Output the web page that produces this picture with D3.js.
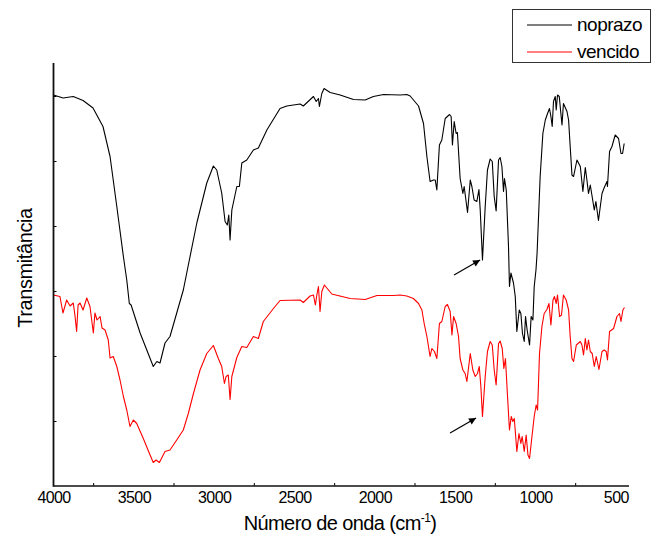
<!DOCTYPE html>
<html><head><meta charset="utf-8">
<script src="https://cdn.jsdelivr.net/npm/d3@7"></script>
<style>
html,body{margin:0;padding:0;background:#fff;}
text{font-family:"Liberation Sans",Arial,sans-serif;fill:#000;}
</style></head>
<body><svg id="c" width="654" height="538"></svg>
<script>
// ---- data ----
const seriesNames = ["noprazo", "vencido"];
const xTickValues = [4000, 3500, 3000, 2500, 2000, 1500, 1000, 500];
const xLabel = "Número de onda (cm";
const yLabel = "Transmitância";

const noprazoWn = [4000,3940,3877,3816,3754,3692,3648,3606,3565,3544,3528,3517,3461,3379,3357,3337,3306,3275,3233,3192,3167,3108,3046,3005,2984,2953,2932,2918,2909,2901,2890,2859,2843,2828,2797,2756,2725,2672,2590,2548,2465,2445,2382,2365,2351,2345,2330,2316,2278,2216,2133,2060,2009,1946,1842,1801,1780,1728,1697,1676,1656,1635,1624,1614,1598,1583,1562,1535,1525,1517,1506,1494,1486,1469,1452,1444,1423,1406,1396,1382,1365,1352,1344,1330,1313,1299,1282,1269,1257,1245,1230,1220,1209,1199,1193,1182,1168,1162,1153,1137,1126,1116,1101,1091,1081,1070,1062,1052,1037,1027,1016,1008,997,990,971,954,939,925,913,904,896,888,877,871,863,852,842,835,826,804,794,784,773,763,742,721,705,690,680,670,659,649,634,624,608,586,572,555,552,539,524,504,483,468,458,448];
const noprazoT = [78.2,77.6,77.9,77.1,75.6,71.9,65.9,55.9,45.9,41.2,36.5,36.2,30.6,23.9,24.9,24.6,28.6,29.9,34.6,39.2,43.2,52.6,60.6,64.0,63.2,58.6,52.9,52.2,54.2,49.2,55.2,59.9,59.9,64.6,65.2,67.2,67.6,71.2,75.5,76.0,76.4,76.0,77.9,76.9,77.5,75.9,78.5,79.5,78.7,78.2,77.3,77.2,77.9,78.3,78.2,78.3,78.0,76.0,72.5,65.9,60.9,61.2,61.2,59.2,68.2,69.2,73.5,74.3,73.9,68.2,72.9,70.5,70.7,61.5,58.5,59.9,54.7,61.2,59.9,57.2,56.9,59.3,55.2,45.2,55.9,63.2,65.4,64.9,57.9,55.0,65.2,65.7,63.9,58.9,61.5,59.2,47.9,39.9,42.6,40.6,37.9,30.9,35.2,34.5,30.5,28.9,33.9,31.2,28.2,33.9,33.2,39.9,43.2,46.6,61.9,70.5,73.2,74.5,75.5,73.9,71.9,76.9,77.9,75.2,78.2,77.9,74.5,72.2,76.5,74.9,73.2,67.9,62.2,61.9,65.2,63.9,58.9,63.7,61.2,58.5,60.2,58.2,55.2,56.9,53.1,58.5,59.7,60.9,59.9,66.9,67.9,70.2,69.5,66.5,66.5,68.5];

const vencidoWn = [4000,3960,3941,3918,3897,3877,3866,3856,3847,3835,3816,3793,3773,3752,3742,3729,3710,3698,3679,3659,3648,3628,3606,3586,3565,3544,3524,3503,3482,3441,3399,3379,3362,3341,3306,3275,3233,3192,3161,3129,3088,3046,3005,2974,2953,2936,2926,2912,2901,2890,2859,2828,2797,2756,2725,2694,2631,2590,2465,2445,2403,2382,2370,2361,2351,2341,2330,2314,2268,2154,2060,1987,1884,1842,1801,1760,1728,1707,1693,1676,1656,1645,1629,1614,1598,1583,1562,1548,1531,1520,1510,1494,1479,1469,1452,1438,1427,1406,1390,1375,1361,1350,1340,1330,1313,1299,1282,1269,1257,1245,1230,1220,1207,1197,1187,1174,1162,1151,1141,1132,1116,1103,1091,1083,1070,1058,1047,1037,1022,1008,996,987,975,960,946,929,916,904,891,882,871,863,850,838,826,809,794,784,773,763,746,721,711,701,690,680,670,659,647,634,622,605,586,572,560,552,539,514,493,477,468,456,446];
const vencidoT = [38.2,37.9,34.6,37.2,36.0,36.6,34.0,30.9,36.2,36.6,35.2,37.6,35.9,30.6,34.6,33.2,33.9,31.6,31.2,29.2,25.6,25.9,23.9,21.2,17.9,15.2,11.9,13.2,12.5,9.5,6.2,4.7,5.2,4.7,6.9,7.2,9.2,11.2,14.5,18.5,23.2,26.5,28.1,25.5,23.9,20.5,21.9,22.2,17.3,21.9,25.7,27.9,27.7,29.9,29.5,32.9,35.5,37.1,37.2,36.7,38.0,38.2,36.2,38.2,39.9,34.9,38.9,40.2,38.4,37.5,37.3,38.1,38.1,38.2,38.0,37.5,36.5,35.2,32.5,29.9,25.9,27.5,26.9,25.5,32.5,32.9,35.9,36.3,34.9,30.2,33.9,32.5,29.9,25.5,23.2,22.5,20.9,26.5,23.2,21.9,22.5,23.9,19.9,13.9,21.9,26.9,28.9,28.2,23.2,20.2,28.5,29.0,27.5,23.5,25.5,17.9,11.2,13.9,12.9,13.5,6.9,10.5,8.5,9.9,6.9,10.2,6.2,5.5,9.9,13.9,16.2,15.2,26.5,31.9,34.5,35.3,36.5,32.2,37.2,37.9,36.5,38.2,33.9,34.2,38.2,37.2,35.2,29.9,25.5,24.9,28.2,28.9,28.2,26.2,29.5,27.2,29.2,26.9,26.5,23.9,25.9,23.3,26.9,27.2,26.9,25.2,30.9,31.5,33.9,34.5,32.9,35.2,35.7];

const yTickValues = [13, 26, 39, 52, 65, 78];
// annotation arrows point at the band near 1330 cm-1
const arrowWn = [1345, 1370];
const arrowT = [45.2, 13.6];

// ---- drawing ----
const svg = d3.select("#c");
const x = d3.scaleLinear().domain([4000, 418]).range([53.5, 629]);
const y = d3.scaleLinear().domain([0, 84.6]).range([486, 63]);
const colors = ["#000000", "#ff0000"];

const line = d3.line().x(d => x(d[0])).y(d => y(d[1]));
const seriesData = [d3.zip(noprazoWn, noprazoT), d3.zip(vencidoWn, vencidoT)];
seriesData.forEach((d, i) => {
  svg.append("path").datum(d).attr("d", line)
    .attr("fill", "none").attr("stroke", colors[i]).attr("stroke-width", 1.1)
    .attr("stroke-linejoin", "round");
});

// x axis
const xAxis = d3.axisBottom(x).tickValues(xTickValues).tickSize(0).tickPadding(6).tickFormat(d3.format("d"));
const gx = svg.append("g").attr("transform", "translate(0,486)").call(xAxis);
gx.select(".domain").remove();
gx.selectAll("text").attr("font-size", 16).attr("letter-spacing", "-0.6px")
  .attr("font-family", "Liberation Sans, Arial, sans-serif").attr("fill", "#000");
// minor ticks (inward)
const minor = d3.range(3750, 418, -500);
svg.append("g").selectAll("line").data(minor).join("line")
  .attr("x1", d => x(d)).attr("x2", d => x(d)).attr("y1", 486).attr("y2", 483)
  .attr("stroke", "#000").attr("stroke-width", 1);
svg.append("line").attr("x1", x(4000)).attr("x2", x(418)).attr("y1", 486).attr("y2", 486)
  .attr("stroke", "#111").attr("stroke-width", 1.6);

// y axis
const yAxis = d3.axisRight(y).tickValues(yTickValues).tickSize(3).tickFormat("");
const gy = svg.append("g").attr("transform", "translate(53.5,0)").call(yAxis);
gy.select(".domain").remove();
gy.selectAll("line").attr("stroke", "#000");
svg.append("line").attr("x1", 53.5).attr("x2", 53.5).attr("y1", 63).attr("y2", 486.8)
  .attr("stroke", "#111").attr("stroke-width", 1.8);

// axis titles
svg.append("text").attr("x", 340).attr("y", 530).attr("text-anchor", "middle")
  .attr("font-size", 20).attr("letter-spacing", "-0.6px")
  .text(xLabel)
  .append("tspan").attr("font-size", 12).attr("dy", -8).text("-1")
  .select(function(){ return this.parentNode; })
  .append("tspan").attr("dy", 8).text(")");
svg.append("text").attr("transform", "translate(32,268) rotate(-90)").attr("text-anchor", "middle")
  .attr("font-size", 20).attr("letter-spacing", "-0.4px").text(yLabel);

// arrows
const defs = svg.append("defs");
defs.append("marker").attr("id", "ah").attr("viewBox", "0 0 10 10").attr("refX", 10).attr("refY", 5)
  .attr("markerWidth", 9).attr("markerHeight", 7).attr("orient", "auto").attr("markerUnits", "userSpaceOnUse")
  .append("path").attr("d", "M0,0 L10,5 L0,10 z").attr("fill", "#000");
arrowWn.forEach((w, i) => {
  const tx = x(w), ty = y(arrowT[i]);
  svg.append("line").attr("x1", tx - 26).attr("y1", ty + 15).attr("x2", tx).attr("y2", ty)
    .attr("stroke", "#000").attr("stroke-width", 1.2).attr("marker-end", "url(#ah)");
});

// legend
const lg = svg.append("g");
lg.append("rect").attr("x", 512.5).attr("y", 9.5).attr("width", 138).attr("height", 53)
  .attr("fill", "#fff").attr("stroke", "#333").attr("stroke-width", 1);
seriesNames.forEach((n, i) => {
  const yy = 25 + i * 27;
  lg.append("line").attr("x1", 527).attr("x2", 572).attr("y1", yy).attr("y2", yy)
    .attr("stroke", colors[i]).attr("stroke-width", 1.1);
  lg.append("text").attr("x", 577).attr("y", yy + 6).attr("font-size", 19)
    .attr("letter-spacing", "-0.5px").text(n);
});
</script></body></html>
